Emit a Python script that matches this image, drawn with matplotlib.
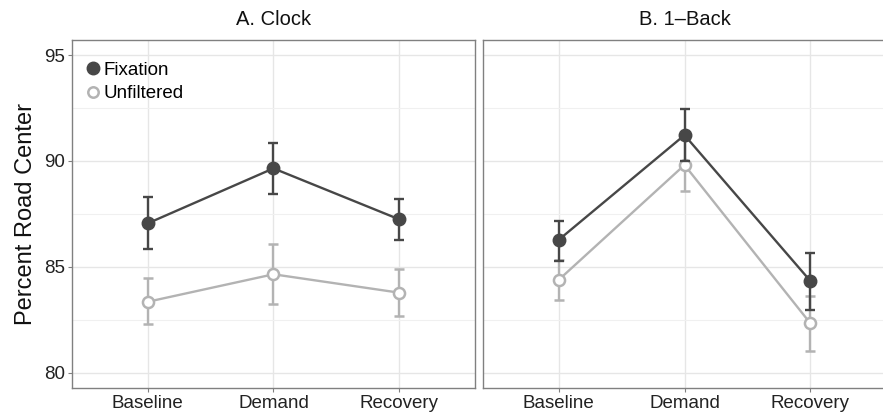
import numpy as np
import matplotlib
matplotlib.use("Agg")
import matplotlib.pyplot as plt
from matplotlib.lines import Line2D

plt.rcParams["font.family"] = ["Liberation Sans", "DejaVu Sans"]

# Data
conditions = ["Baseline", "Demand", "Recovery"]
panels = ["A. Clock", "B. 1\u2013Back"]

fix_mean = [[87.05, 89.65, 87.24], [86.27, 91.22, 84.33]]
fix_lo = [[85.86, 88.42, 86.27], [85.29, 90.00, 82.96]]
fix_hi = [[88.28, 90.86, 88.20], [87.18, 92.46, 85.67]]

unf_mean = [[83.35, 84.65, 83.78], [84.38, 89.81, 82.33]]
unf_lo = [[82.28, 83.24, 82.68], [83.43, 88.59, 81.02]]
unf_hi = [[84.49, 86.08, 84.88], [85.32, 91.03, 83.62]]

dark = "#474747"
light = "#b3b3b3"

fig = plt.figure(figsize=(8.83, 4.17), dpi=100)
ax_a = fig.add_axes([0.0815, 0.0695, 0.4564, 0.8345])
ax_b = fig.add_axes([0.547, 0.0695, 0.4564, 0.8345])
axes = [ax_a, ax_b]

x = np.arange(1, len(conditions) + 1)

for i, ax in enumerate(axes):
    ax.set_xlim(0.4, 3.6)
    ax.set_ylim(79.28, 95.71)
    ax.set_yticks([80, 85, 90, 95])
    ax.set_yticks([82.5, 87.5, 92.5], minor=True)
    ax.set_xticks(x)
    ax.set_xticklabels(conditions)
    ax.grid(True, which="major", color="#e6e6e6", lw=1.0)
    ax.grid(True, which="minor", axis="y", color="#f0f0f0", lw=0.8)
    ax.set_axisbelow(True)
    for s in ax.spines.values():
        s.set_color("#808080")
        s.set_linewidth(1.0)
    ax.tick_params(axis="both", which="major", length=3, color="#808080",
                   labelsize=13.5, labelcolor="#222222", pad=2)
    ax.tick_params(axis="y", which="minor", length=0)
    ax.set_title(panels[i], fontsize=14.5, color="#111111", pad=11)

    # unfiltered
    m = np.array(unf_mean[i])
    yerr = [m - np.array(unf_lo[i]), np.array(unf_hi[i]) - m]
    ax.errorbar(x, m, yerr=yerr, color=light, lw=1.7, capsize=3.6,
                capthick=1.7, marker="o", ms=8, mfc="white", mec=light,
                mew=1.8, zorder=3)
    # fixation
    m = np.array(fix_mean[i])
    yerr = [m - np.array(fix_lo[i]), np.array(fix_hi[i]) - m]
    ax.errorbar(x, m, yerr=yerr, color=dark, lw=1.7, capsize=3.6,
                capthick=1.7, marker="o", ms=9, mfc=dark, mec=dark,
                zorder=4)

ax_b.tick_params(axis="y", which="both", left=False, labelleft=False)
ax_a.set_ylabel("Percent Road Center", fontsize=17, color="#111111", labelpad=5)

handles = [
    Line2D([], [], ls="none", marker="o", ms=9, mfc=dark, mec=dark),
    Line2D([], [], ls="none", marker="o", ms=7.5, mfc="white", mec=light, mew=1.8),
]
ax_a.legend(handles, ["Fixation", "Unfiltered"], loc="upper left",
            frameon=False, fontsize=13.5, handlelength=0.8, handletextpad=0.2,
            labelspacing=0.32, borderaxespad=0.3, bbox_to_anchor=(0.0, 0.975))

fig.savefig("out.png", dpi=100)
